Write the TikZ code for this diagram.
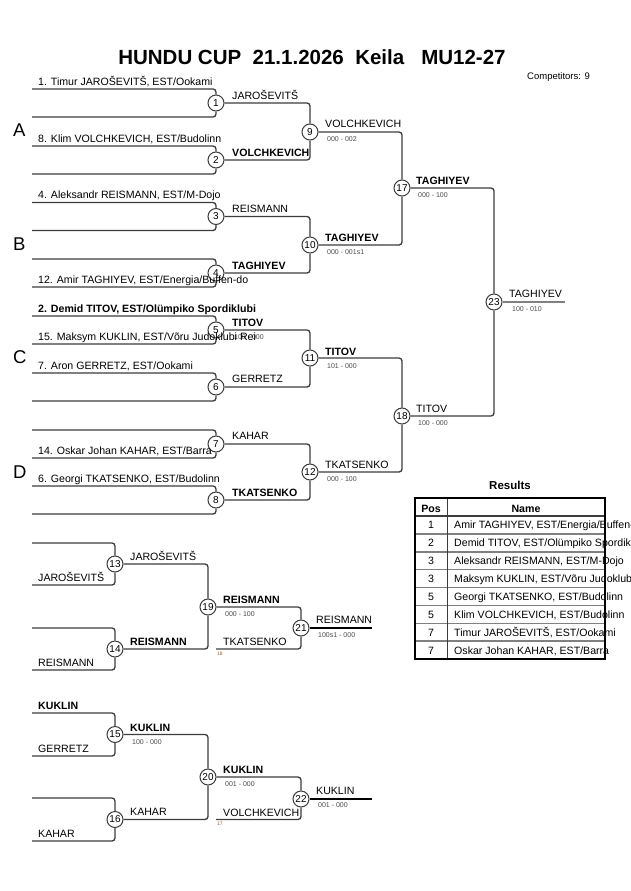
\documentclass[tikz,border=0pt]{standalone}
\usepackage{fontspec}
\setmainfont{Liberation Sans}
\definecolor{linec}{HTML}{3C3C3C}
\definecolor{scorec}{HTML}{4A4A4A}
\definecolor{tinyc}{HTML}{8B5A3C}
\definecolor{finalc}{HTML}{808080}
\begin{document}
\begin{tikzpicture}[x=1pt,y=-1pt,
  ln/.style={draw=linec, line width=1.3pt, rounded corners=3pt},
  mc/.style={circle, draw=linec, line width=1pt, fill=white, minimum size=16pt, inner sep=0pt, font=\fontsize{10}{10}\selectfont},
  nm/.style={anchor=base west, inner sep=0pt, font=\fontsize{10.6}{12}\selectfont},
  nmb/.style={anchor=base west, inner sep=0pt, font=\fontsize{10.6}{12}\selectfont\bfseries},
  sc/.style={anchor=base west, inner sep=0pt, text=scorec, font=\fontsize{7}{8}\selectfont},
  tn/.style={anchor=base west, inner sep=0pt, text=tinyc, font=\fontsize{5}{6}\selectfont},
  grp/.style={anchor=base west, inner sep=0pt, font=\fontsize{18.5}{20}\selectfont},
  cellc/.style={anchor=base, inner sep=0pt, font=\fontsize{10.6}{12}\selectfont},
]
\useasboundingbox (0,0) rectangle (630,891);
\clip (0,0) rectangle (630,891);

% title
\node[anchor=base, inner sep=0pt, font=\fontsize{20.5}{24}\selectfont\bfseries] (title) at (312,65) {HUNDU CUP\ \ 21.1.2026\ \ Keila\ \ \ MU12-27};
\node[anchor=base west, inner sep=0pt, font=\fontsize{9.5}{11}\selectfont] (comp) at (527,80) {Competitors: 9};

% ---------- main bracket circles ----------
\foreach \i/\y in {1/103,2/160,3/216.5,4/273,5/330,6/387,7/444,8/500}{
  \node[mc] (m\i) at (216,\y) {\i};
  \coordinate (in\i a) at (32,\y-14);
  \coordinate (in\i b) at (32,\y+14);
}
\node[mc] (m9) at (310,132) {9};
\node[mc] (m10) at (310,245) {10};
\node[mc] (m11) at (310,358) {11};
\node[mc] (m12) at (310,472) {12};
\node[mc] (m17) at (402,188) {17};
\node[mc] (m18) at (402,416) {18};
\node[mc] (m23) at (494,302) {23};
\coordinate (fin23) at (565,302);

% repechage circles
\node[mc] (m13) at (115,564) {13};
\node[mc] (m14) at (115,649) {14};
\node[mc] (m19) at (208,607) {19};
\node[mc] (m21) at (301,628) {21};
\node[mc] (m15) at (115,734.5) {15};
\node[mc] (m16) at (115,819.5) {16};
\node[mc] (m20) at (208,777) {20};
\node[mc] (m22) at (301,799) {22};
\coordinate (in13a) at (32,543);  \coordinate (in13b) at (32,585);
\coordinate (in14a) at (32,628);  \coordinate (in14b) at (32,670);
\coordinate (in15a) at (32,713);  \coordinate (in15b) at (32,756);
\coordinate (in16a) at (32,798);  \coordinate (in16b) at (32,841);
\coordinate (in21b) at (216,649);
\coordinate (in22b) at (216,819.5);
\coordinate (fin21) at (372,628);
\coordinate (fin22) at (372,799);

% ---------- connectors ----------
\foreach \i in {1,...,8,13,14,15,16}{
  \draw[ln] (in\i a) -| (m\i);
  \draw[ln] (in\i b) -| (m\i);
}
\draw[ln] (m1) -| (m9);   \draw[ln] (m2) -| (m9);
\draw[ln] (m3) -| (m10);  \draw[ln] (m4) -| (m10);
\draw[ln] (m5) -| (m11);  \draw[ln] (m6) -| (m11);
\draw[ln] (m7) -| (m12);  \draw[ln] (m8) -| (m12);
\draw[ln] (m9) -| (m17);  \draw[ln] (m10) -| (m17);
\draw[ln] (m11) -| (m18); \draw[ln] (m12) -| (m18);
\draw[ln] (m17) -| (m23); \draw[ln] (m18) -| (m23);
\draw[draw=finalc, line width=2pt] (m23) -- (fin23);

\draw[ln] (m13) -| (m19); \draw[ln] (m14) -| (m19);
\draw[ln] (m19) -| (m21); \draw[ln] (in21b) -| (m21);
\draw[ln] (m15) -| (m20); \draw[ln] (m16) -| (m20);
\draw[ln] (m20) -| (m22); \draw[ln] (in22b) -| (m22);
\draw[draw=black, line width=1.3pt] (m21) -- (fin21);
\draw[draw=black, line width=1.3pt] (m22) -- (fin22);

% ---------- group letters ----------
\node[grp] (gA) at (13,136) {A};
\node[grp] (gB) at (13,250) {B};
\node[grp] (gC) at (13,363) {C};
\node[grp] (gD) at (13,478) {D};

% ---------- entries ----------
\node[nm]  (e1)  at (38,85)    {1. Timur JAROŠEVITŠ, EST/Ookami};
\node[nm]  (e8)  at (38,142)   {8. Klim VOLCHKEVICH, EST/Budolinn};
\node[nm]  (e4)  at (38,198.5) {4. Aleksandr REISMANN, EST/M-Dojo};
\node[nm]  (e12) at (38,283)   {12. Amir TAGHIYEV, EST/Energia/Buffen-do};
\node[nmb] (e2)  at (38,312)   {2. Demid TITOV, EST/Olümpiko Spordiklubi};
\node[sc]  (s5)  at (234,339)  {100 - 000};
\node[nm]  (e15) at (38,340)   {15. Maksym KUKLIN, EST/Võru Judoklubi Rei};
\node[nm]  (e7)  at (38,369)   {7. Aron GERRETZ, EST/Ookami};
\node[nm]  (e14) at (38,454)   {14. Oskar Johan KAHAR, EST/Barra};
\node[nm]  (e6)  at (38,482)   {6. Georgi TKATSENKO, EST/Budolinn};

% ---------- winners ----------
\node[nm]  (w1) at (232,99)    {JAROŠEVITŠ};
\node[nmb] (w2) at (232,156)   {VOLCHKEVICH};
\node[nm]  (w3) at (232,212.5) {REISMANN};
\node[nmb] (w4) at (232,269)   {TAGHIYEV};
\node[nmb] (w5) at (232,326)   {TITOV};
\node[nm]  (w6) at (232,382.5) {GERRETZ};
\node[nm]  (w7) at (232,439.5) {KAHAR};
\node[nmb] (w8) at (232,496.5) {TKATSENKO};
\node[nm]  (w9)  at (325,127.5) {VOLCHKEVICH}; \node[sc] (s9)  at (327,141)   {000 - 002};
\node[nmb] (w10) at (325,241)   {TAGHIYEV};    \node[sc] (s10) at (327,254)   {000 - 001s1};
\node[nmb] (w11) at (325,355)   {TITOV};       \node[sc] (s11) at (327,368)   {101 - 000};
\node[nm]  (w12) at (325,468)   {TKATSENKO};   \node[sc] (s12) at (327,481.5) {000 - 100};
\node[nmb] (w17) at (416,184)   {TAGHIYEV};    \node[sc] (s17) at (418,197)   {000 - 100};
\node[nm]  (w18) at (416,412)   {TITOV};       \node[sc] (s18) at (418,425.5) {100 - 000};
\node[nm]  (w23) at (509,297.5) {TAGHIYEV};    \node[sc] (s23) at (512,311)   {100 - 010};

% ---------- repechage labels ----------
\node[nm]  (r13) at (38,581.5)  {JAROŠEVITŠ};
\node[nm]  (w13) at (130,560.5) {JAROŠEVITŠ};
\node[nm]  (r14) at (38,666.5)  {REISMANN};
\node[nmb] (w14) at (130,645)   {REISMANN};
\node[nmb] (w19) at (223,603)   {REISMANN};  \node[sc] (s19) at (225,616) {000 - 100};
\node[nm]  (l21) at (223,645)   {TKATSENKO}; \node[tn] (f21) at (217,655) {18};
\node[nm]  (w21) at (316,623.5) {REISMANN};  \node[sc] (s21) at (318,637) {100s1 - 000};

\node[nmb] (r15a) at (38,709)   {KUKLIN};
\node[nm]  (r15b) at (38,752)   {GERRETZ};
\node[nmb] (w15) at (130,731)   {KUKLIN};    \node[sc] (s15) at (132,744) {100 - 000};
\node[nm]  (r16) at (38,837)    {KAHAR};
\node[nm]  (w16) at (130,815.5) {KAHAR};
\node[nmb] (w20) at (223,773)   {KUKLIN};    \node[sc] (s20) at (225,786) {001 - 000};
\node[nm]  (l22) at (223,816)   {VOLCHKEVICH}; \node[tn] (f22) at (217,825) {17};
\node[nm]  (w22) at (316,794.5) {KUKLIN};    \node[sc] (s22) at (318,807.5) {001 - 000};

% ---------- results table ----------
\node[anchor=base, inner sep=0pt, font=\fontsize{11.5}{13}\selectfont\bfseries] (restitle) at (510,489) {Results};
\foreach \k in {2,...,8}{
  \draw[draw=finalc, line width=1.5pt] (415,{516+17.875*(\k-1)}) -- (605,{516+17.875*(\k-1)});
}
\draw[draw=linec, line width=1.3pt] (415,516) -- (605,516);
\draw[draw=linec, line width=1pt] (447,498) -- (447,659);
\node[cellc, font=\fontsize{10.6}{12}\selectfont\bfseries] (hpos) at (431,512) {Pos};
\node[cellc, font=\fontsize{10.6}{12}\selectfont\bfseries] (hname) at (526,512) {Name};
\foreach \k/\p/\n in {1/1/{Amir TAGHIYEV, EST/Energia/Buffen-do},
                      2/2/{Demid TITOV, EST/Olümpiko Spordiklubi},
                      3/3/{Aleksandr REISMANN, EST/M-Dojo},
                      4/3/{Maksym KUKLIN, EST/Võru Judoklubi Rei},
                      5/5/{Georgi TKATSENKO, EST/Budolinn},
                      6/5/{Klim VOLCHKEVICH, EST/Budolinn},
                      7/7/{Timur JAROŠEVITŠ, EST/Ookami},
                      8/7/{Oskar Johan KAHAR, EST/Barra}}{
  \node[cellc] (pos\k) at (431,{516+17.875*\k-5}) {\p};
  \node[nm] (name\k) at (454,{516+17.875*\k-5}) {\n};
}
\draw[draw=black, line width=2pt] (415,498) rectangle (605,659);
\end{tikzpicture}
\end{document}
